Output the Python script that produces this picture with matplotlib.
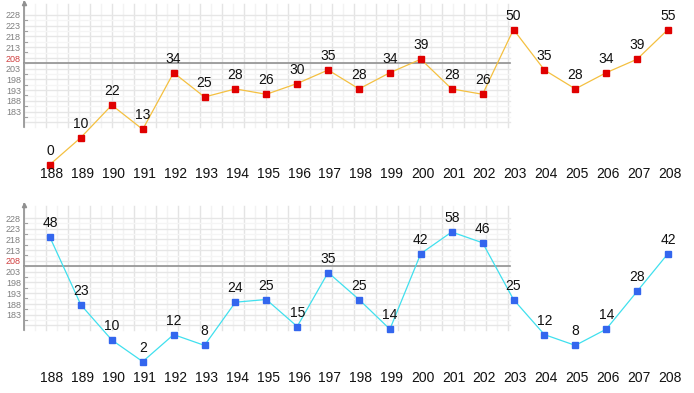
import matplotlib.pyplot as plt
import numpy as np

plt.rcParams['font.family'] = ['Liberation Sans', 'DejaVu Sans']

# data
periods = [str(p) for p in range(188, 209)]
top_vals = [0, 10, 22, 13, 34, 25, 28, 26, 30, 35, 28, 34, 39, 28, 26, 50, 35, 28, 34, 39, 55]
bot_vals = [48, 23, 10, 2, 12, 8, 24, 25, 15, 35, 25, 14, 42, 58, 46, 25, 12, 8, 14, 28, 42]
grid_labels = ['228', '223', '218', '213', '208', '203', '198', '193', '188', '183']
cap = 50

W, H = 694, 393
fig = plt.figure(figsize=(W / 100, H / 100), dpi=100)

# background decoration in pixel coordinates
bg = fig.add_axes([0, 0, 1, 1])
bg.set_xlim(0, W)
bg.set_ylim(H, 0)
bg.axis('off')


def draw_grid(y0, y1, mid, lab_y0):
    for x in np.arange(24, 511, 11):
        major = (x - 24) % 22 == 0
        bg.plot([x, x], [y0, y1], color='#e4e4e4' if major else '#f3f3f3', lw=1, zorder=0)
    for k, y in enumerate(np.arange(lab_y0 - 1, y1, 5.37)):
        bg.plot([24, 510], [y, y], color='#e6e6e6' if k % 2 == 0 else '#f5f5f5', lw=1, zorder=0)
    bg.plot([24, 510], [mid, mid], color='#909090', lw=1.2, zorder=1)
    bg.plot([24, 24], [y0 - 2, y1], color='#909090', lw=1.2, zorder=1)
    bg.plot([24], [y0 - 1], marker='^', color='#909090', ms=3, zorder=1)
    for i, lab in enumerate(grid_labels):
        y = lab_y0 + i * 10.75
        bg.plot([24, 27], [y + 4, y + 4], color='#a0a0a0', lw=0.8)
        bg.text(21, y, lab, ha='right', va='center', fontsize=6.5,
                color='#d04040' if lab == '208' else '#808080')


draw_grid(4, 127, 63, 16)
draw_grid(206, 330, 266, 219)

x = np.arange(len(periods))


def draw_panel(vals, base_px, line_c, mark_c, lab_px):
    ax = fig.add_axes([0, 0, 1, 1])
    ax.patch.set_alpha(0)
    ax.axis('off')
    # pixel -> data mapping: x_px = 50 + 30.9 * i, y_px = base_px - 2.7 * v
    ax.set_xlim(-50 / 30.9, (W - 50) / 30.9)
    ax.set_ylim((base_px - H) / 2.7, base_px / 2.7)
    yv = np.minimum(vals, cap)
    ax.plot(x, yv, color=line_c, lw=0.9, zorder=2)
    ax.plot(x, yv, 's', color=mark_c, ms=5, zorder=3)
    for xi, yi, v in zip(x, yv, vals):
        ax.annotate(str(v), (xi, yi), xytext=(0, 5), textcoords='offset points',
                    ha='center', va='bottom', fontsize=10, color='#111111')
    for xi, p in zip(x, periods):
        ax.text(xi + 0.06, (base_px - lab_px) / 2.7, p, ha='center', va='center',
                fontsize=10, color='#111111')


draw_panel(top_vals, 164.5, '#f4c040', '#e00000', 174)
draw_panel(bot_vals, 367, '#40e0ee', '#3366ee', 378)

fig.savefig('out.png', dpi=100)
